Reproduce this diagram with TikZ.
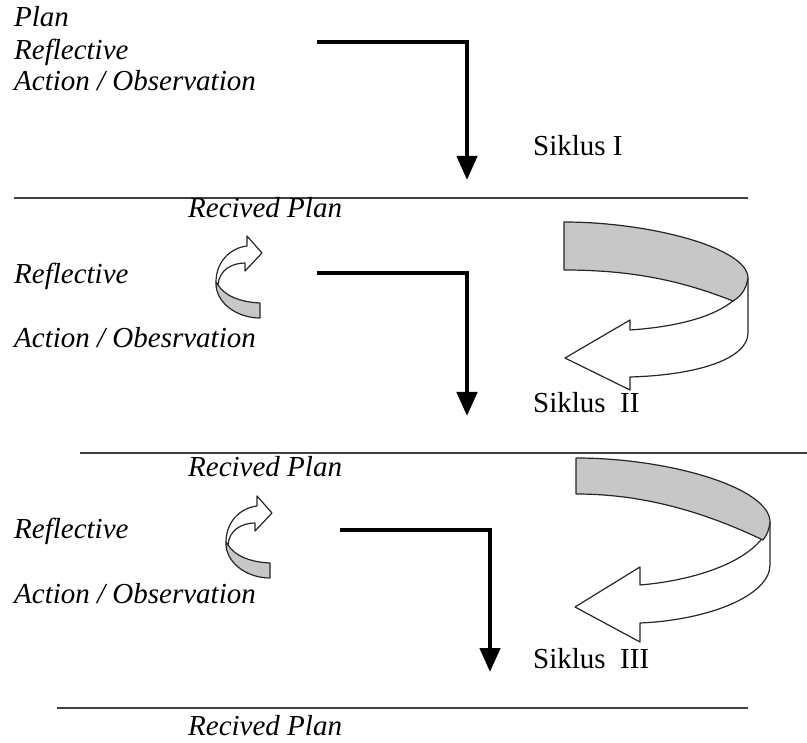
\documentclass[tikz,border=0pt]{standalone}
\usepackage{fontspec}
\setmainfont{Liberation Serif}
\usetikzlibrary{arrows.meta}

% small twisted u-turn arrow, drawn at a shift
\newcommand{\turnarrow}[1]{%
\begin{scope}[shift={#1}]
\filldraw[ribbon front] (216,282) .. controls (215,302) and (236,318) .. (260,318)
  -- (260,303) .. controls (240,302) and (225,296) .. (218,285) -- cycle;
\filldraw[ribbon back] (218,285) .. controls (219,270) and (232,263) .. (245,263)
  -- (245,271) -- (262,253) -- (247,236) -- (247,246)
  .. controls (230,248) and (216,262) .. (216,282) -- cycle;
\end{scope}}

\begin{document}
\begin{tikzpicture}[x=1pt,y=-1pt,
    lbl/.style={anchor=base west,inner sep=0pt,font=\fontsize{29}{33}\selectfont\itshape},
    siklus/.style={anchor=base west,inner sep=0pt,font=\fontsize{29}{33}\selectfont},
    rule/.style={line width=1.6pt,black!75},
    elbow/.style={line width=4.5pt,-{Triangle[width=20pt,length=24pt]}},
    ribbon front/.style={draw=black!85,line width=1.2pt,fill=black!22,line join=round},
    ribbon back/.style={draw=black!85,line width=1.2pt,fill=white,line join=round}]

\useasboundingbox (0,0) rectangle (807,743);

% cycle I
\node[lbl] (plan) at (14,27) {Plan};
\node[lbl] (refl1) at (14,60) {Reflective};
\node[lbl] (act1) at (14,91) {Action / Observation};
\node[siklus] (sik1) at (533,156) {Siklus I};
\coordinate (s1) at (317,42);
\coordinate (e1) at (467,180);
\draw[elbow] (s1) -| (e1);
\coordinate (l1a) at (14,198);
\coordinate (l1b) at (748,198);
\draw[rule] (l1a) -- (l1b);
\node[lbl] (rp1) at (188,218) {Recived Plan};

% cycle II
\node[lbl] (refl2) at (14,284) {Reflective};
\node[lbl] (act2) at (14,348) {Action / Obesrvation};
\turnarrow{(0,0)}
\coordinate (s2) at (317,273);
\coordinate (e2) at (467,416);
\draw[elbow] (s2) -| (e2);
\filldraw[ribbon back] (748,278) -- (748,333) .. controls (748,358) and (700,375) .. (630,377)
  -- (630,390) -- (565,358) -- (630,320) -- (630,330)
  .. controls (690,326) and (741,310) .. (748,278) -- cycle;
\filldraw[ribbon front] (564,222) .. controls (650,222) and (748,248) .. (748,278)
  .. controls (746,290) and (741,296) .. (733,301)
  .. controls (680,280) and (630,270) .. (564,270) -- cycle;
\node[siklus] (sik2) at (533,413) {Siklus\ \ II};
\coordinate (l2a) at (80,453);
\coordinate (l2b) at (807,453);
\draw[rule] (l2a) -- (l2b);
\node[lbl] (rp2) at (188,477) {Recived Plan};

% cycle III
\node[lbl] (refl3) at (14,539) {Reflective};
\node[lbl] (act3) at (14,603) {Action / Observation};
\turnarrow{(10,260)}
\coordinate (s3) at (340,530);
\coordinate (e3) at (490,672);
\draw[elbow] (s3) -| (e3);
\filldraw[ribbon back] (770,522) -- (770,565) .. controls (770,595) and (710,620) .. (640,623)
  -- (640,642) -- (575,607) -- (640,567) -- (640,585)
  .. controls (700,580) and (762,558) .. (770,522) -- cycle;
\filldraw[ribbon front] (576,458) .. controls (670,458) and (770,488) .. (770,522)
  .. controls (769,530) and (767,535) .. (763,540)
  .. controls (700,510) and (640,494) .. (576,494) -- cycle;
\node[siklus] (sik3) at (533,668) {Siklus\ \ III};
\coordinate (l3a) at (57,708);
\coordinate (l3b) at (748,708);
\draw[rule] (l3a) -- (l3b);
\node[lbl] (rp3) at (188,735) {Recived Plan};

\end{tikzpicture}
\end{document}
